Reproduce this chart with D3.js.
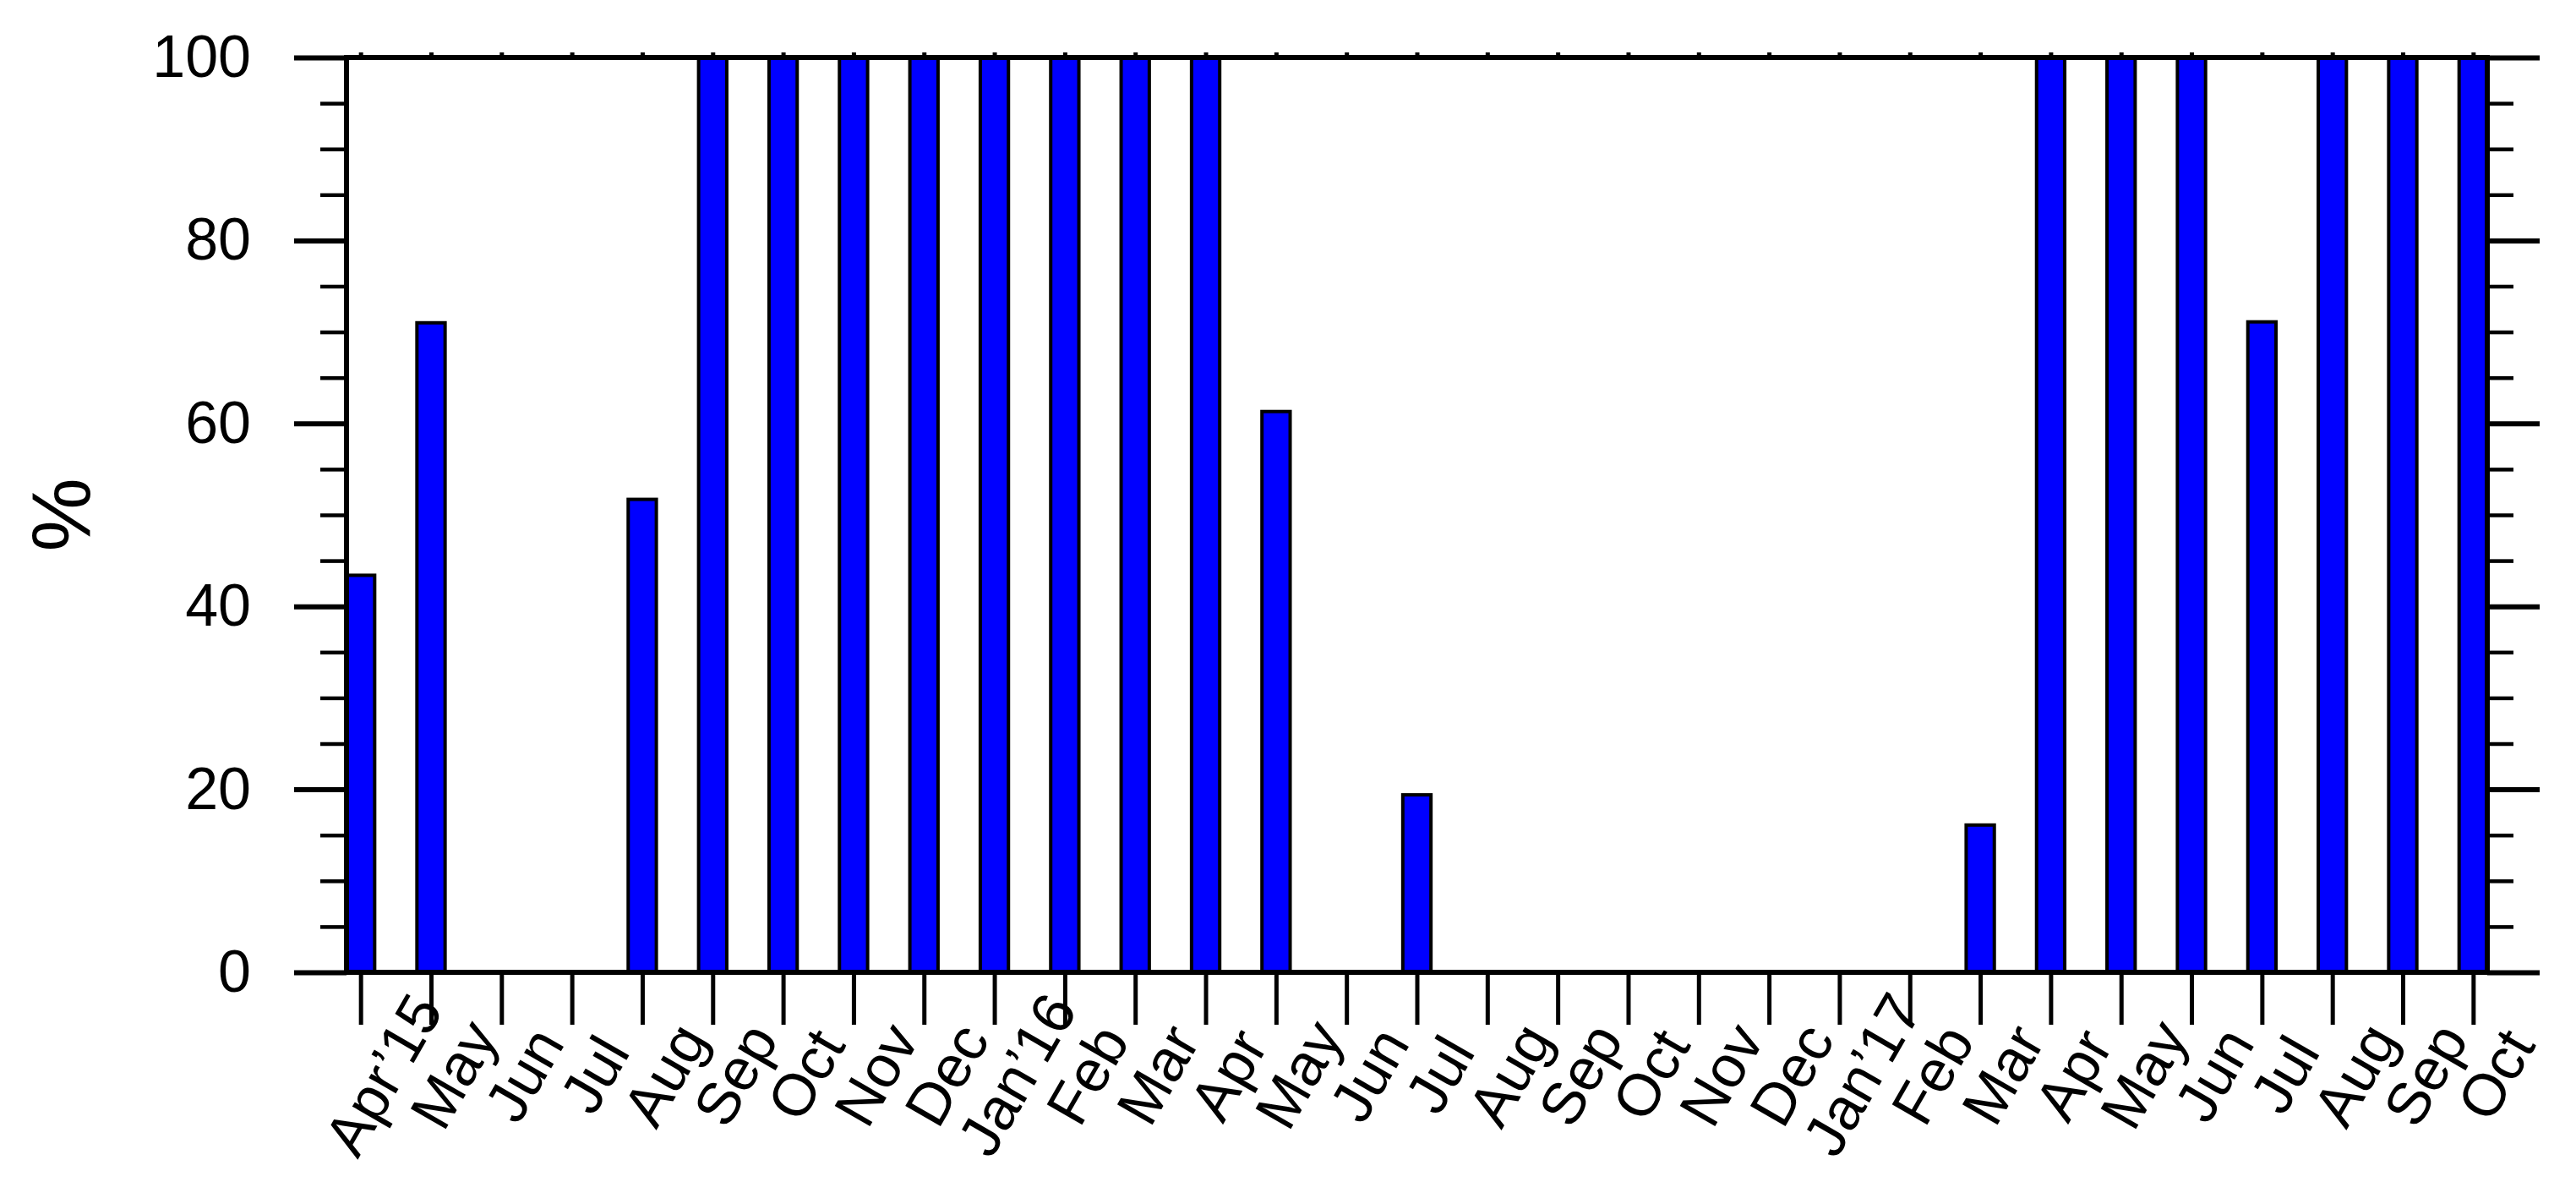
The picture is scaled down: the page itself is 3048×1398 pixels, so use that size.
<!DOCTYPE html>
<html>
<head>
<meta charset="utf-8">
<script src="https://cdn.jsdelivr.net/npm/d3@7"></script>
<style>
    html, body { margin: 0; padding: 0; background: #fff; }
    svg { display: block; }
</style>
</head>
<body>
<div id="view"></div>
<script>
// month labels along the x axis
const months = ["Apr\u201915", "May", "Jun", "Jul", "Aug", "Sep", "Oct", "Nov", "Dec",
    "Jan\u201916", "Feb", "Mar", "Apr", "May", "Jun", "Jul", "Aug", "Sep", "Oct", "Nov", "Dec",
    "Jan\u201917", "Feb", "Mar", "Apr", "May", "Jun", "Jul", "Aug", "Sep", "Oct"];
// percent value per month
const values = [43.4, 71.0, 0, 0, 51.7, 100, 100, 100, 100,
    100, 100, 100, 100, 61.3, 0, 19.4, 0, 0, 0, 0, 0,
    0, 0, 16.1, 100, 100, 100, 71.1, 100, 100, 100];
const yMajor = [0, 20, 40, 60, 80, 100];
const yMinor = [5, 10, 15, 25, 30, 35, 45, 50, 55, 65, 70, 75, 85, 90, 95];
const yTitle = "%";

const W = 3048, H = 1398;
const m = {left: 410, right: 2943, top: 68, bottom: 1150};
const font = "'Liberation Sans', Arial, Helvetica, sans-serif";

const svg = d3.select("#view")
    .append("svg")
        .attr("width", W)
        .attr("height", H);

// x is the month index, y the percentage
const x = d3.scaleLinear().domain([-0.2, months.length - 0.8]).range([m.left, m.right]);
const y = d3.scaleLinear().domain([0, 100]).range([m.bottom, m.top]);
const barW = 0.4;

// bars
svg.append("g")
    .selectAll("rect")
    .data(values.map((v, i) => ({v, i})).filter(d => d.v > 0))
    .join("rect")
        .attr("x", d => x(d.i - barW / 2))
        .attr("width", x(barW) - x(0))
        .attr("y", d => y(d.v))
        .attr("height", d => y(0) - y(d.v))
        .attr("fill", "#0000ff")
        .attr("stroke", "#000")
        .attr("stroke-width", 4);

// helper to style an axis group
function styleAxis(g, width) {
    g.select(".domain").remove();
    g.selectAll(".tick line").attr("stroke", "#000").attr("stroke-width", width);
    g.selectAll(".tick text")
        .attr("fill", "#000")
        .style("font-family", font)
        .style("font-size", "70px");
}

// left axis, major ticks with labels
svg.append("g")
    .attr("transform", `translate(${m.left},0)`)
    .call(d3.axisLeft(y).tickValues(yMajor).tickSize(62).tickPadding(51).tickFormat(d3.format("d")))
    .call(g => styleAxis(g, 6));
// left minor
svg.append("g")
    .attr("transform", `translate(${m.left},0)`)
    .call(d3.axisLeft(y).tickValues(yMinor).tickSize(31).tickFormat(""))
    .call(g => styleAxis(g, 4.5));
// right axis
svg.append("g")
    .attr("transform", `translate(${m.right},0)`)
    .call(d3.axisRight(y).tickValues(yMajor).tickSize(62).tickFormat(""))
    .call(g => styleAxis(g, 6));
svg.append("g")
    .attr("transform", `translate(${m.right},0)`)
    .call(d3.axisRight(y).tickValues(yMinor).tickSize(31).tickFormat(""))
    .call(g => styleAxis(g, 4.5));

// bottom axis ticks
svg.append("g")
    .attr("transform", `translate(0,${m.bottom})`)
    .call(d3.axisBottom(x).tickValues(d3.range(months.length)).tickSize(62).tickFormat(""))
    .call(g => styleAxis(g, 5));
// top axis: tiny ticks
svg.append("g")
    .attr("transform", `translate(0,${m.top})`)
    .call(d3.axisTop(x).tickValues(d3.range(months.length)).tickSize(6).tickFormat(""))
    .call(g => styleAxis(g, 5));

// rotated month labels
svg.append("g")
    .selectAll("text")
    .data(months)
    .join("text")
        .attr("transform", (d, i) => `translate(${x(i) + 27},1271) rotate(-60)`)
        .attr("text-anchor", "middle")
        .attr("dominant-baseline", "central")
        .style("font-family", font)
        .style("font-size", "70px")
        .text(d => d);

// frame
svg.append("rect")
    .attr("x", m.left)
    .attr("y", m.top)
    .attr("width", m.right - m.left)
    .attr("height", m.bottom - m.top)
    .attr("fill", "none")
    .attr("stroke", "#000")
    .attr("stroke-width", 6);

// y title
svg.append("text")
    .attr("transform", `translate(72,${(m.top + m.bottom) / 2}) rotate(-90)`)
    .attr("text-anchor", "middle")
    .attr("dominant-baseline", "central")
    .style("font-family", font)
    .style("font-size", "98px")
    .text(yTitle);
</script>
</body>
</html>
